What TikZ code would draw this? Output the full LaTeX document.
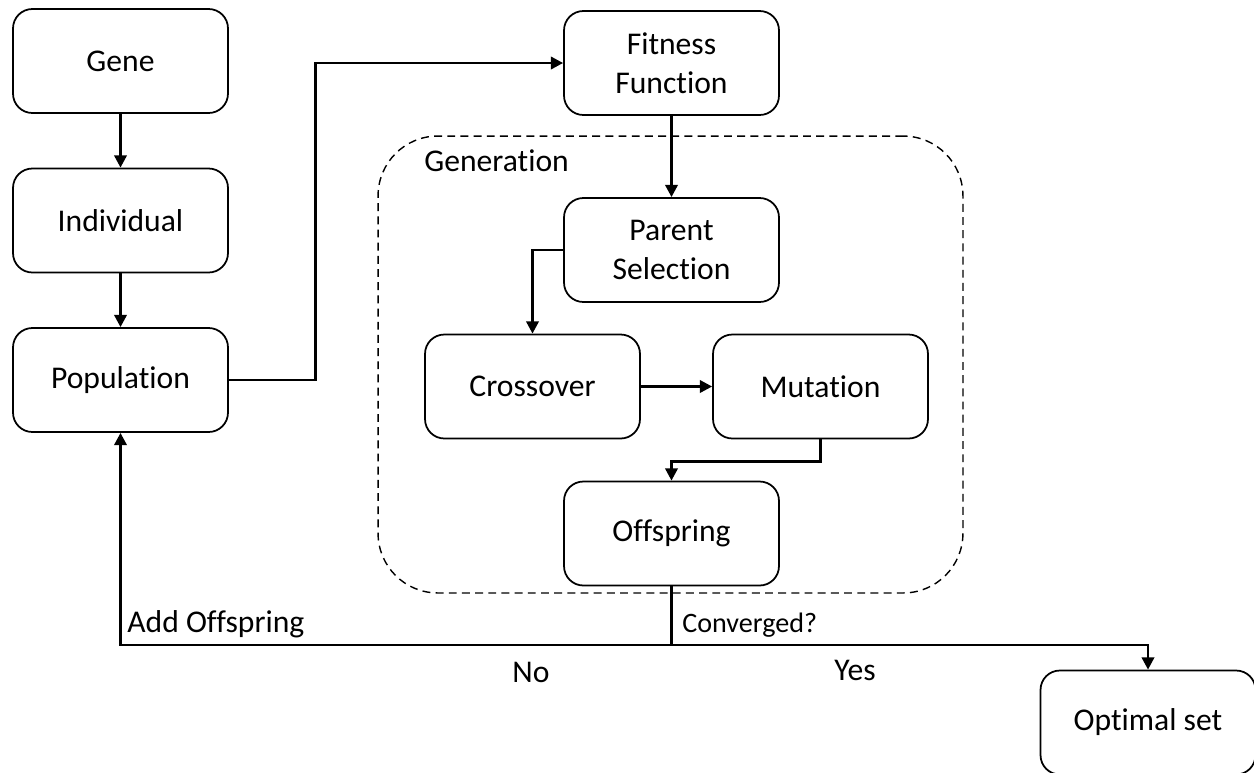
\documentclass[tikz,border=0pt]{standalone}
\usepackage{fontspec}
\setmainfont{Carlito}[Ligatures=NoCommon]
\usetikzlibrary{arrows.meta, positioning}

\begin{document}
\begin{tikzpicture}[x=0.02cm, y=-0.02cm,
  stagebox/.style={draw, line width=1pt, rounded corners=11pt, minimum width=4.3cm, minimum height=2.08cm, align=center, font=\fontsize{18}{22.5}\selectfont},
  flow/.style={line width=1.6pt, -{Triangle[width=7pt,length=7pt]}},
  lbl/.style={font=\fontsize{18}{22}\selectfont, inner sep=0pt}]
  \useasboundingbox (0,0) rectangle (1254,772);

  % Generation loop
  \node[draw, line width=0.8pt, dash pattern=on 4.5pt off 3pt, rounded corners=34pt, minimum width=11.7cm, minimum height=9.14cm] (gen) at (670.5,364.5) {};
  \node[lbl, anchor=base west] (genlbl) at (424,171) {Generation};

  % Stages
  \node[stagebox] (gene) at (120.5,61) {Gene};
  \node[stagebox] (indiv) at (120.5,220.5) {Individual};
  \node[stagebox] (pop) at (120.5,380) {Population};
  \node[stagebox] (fit) at (671.5,63) {Fitness\\Function};
  \node[stagebox] (par) at (671.5,250) {Parent\\Selection};
  \node[stagebox] (cross) at (532.5,386.5) {Crossover};
  \node[stagebox] (mut) at (820.5,386.5) {Mutation};
  \node[stagebox] (off) at (671.5,533.5) {Offspring};
  \node[stagebox] (opt) at (1148,722.5) {Optimal set};

  % Flow
  \draw[flow] (gene) -- (indiv);
  \draw[flow] (indiv) -- (pop);
  \draw[flow] (pop.east) -- ++(87,0) |- (fit.west);
  \draw[flow] (fit) -- (par);
  \draw[flow] (par.west) -| (cross.north);
  \draw[flow] (cross) -- (mut);
  \draw[flow] (mut.south) -- ++(0,22) -| (off.north);
  \coordinate (split) at (671.5,645);
  \draw[flow] (off.south) -- (split) -| (pop.south);
  \draw[flow] (split) -| (opt.north);

  % Labels
  \node[lbl, anchor=base west] (addlbl) at (127,632) {Add Offspring};
  \node[lbl, font=\fontsize{16}{18}\selectfont, anchor=base west] (convlbl) at (682,632) {Converged?};
  \node[lbl, anchor=base] (nolbl) at (531,682) {No};
  \node[lbl, anchor=base] (yeslbl) at (855,680) {Yes};
\end{tikzpicture}
\end{document}
